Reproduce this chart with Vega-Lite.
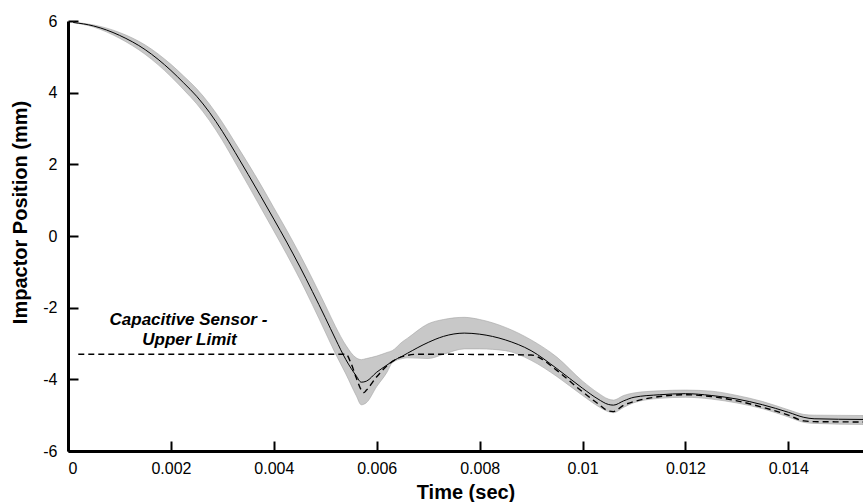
{
  "$schema": "https://vega.github.io/schema/vega-lite/v6.json",
  "width": 795,
  "height": 430,
  "autosize": "none",
  "padding": {"left": 68, "top": 21, "right": 0, "bottom": 51},
  "background": "white",
  "config": {
    "view": {"stroke": null},
    "font": "Liberation Sans",
    "axis": {
      "grid": false,
      "domainColor": "black",
      "domainWidth": 3,
      "tickColor": "black",
      "tickWidth": 2,
      "tickSize": -10,
      "labelColor": "black",
      "labelFontSize": 16,
      "labelFont": "Liberation Sans",
      "titleFont": "Liberation Sans",
      "titleFontSize": 20,
      "titleFontWeight": "bold",
      "titleColor": "black"
    }
  },
  "datasets": {
    "band": [
      {"t": 0.0001, "mean": 5.96, "lo": 5.955, "hi": 5.965},
      {"t": 0.0005, "mean": 5.86, "lo": 5.83, "hi": 5.89},
      {"t": 0.001, "mean": 5.6, "lo": 5.52, "hi": 5.68},
      {"t": 0.0015, "mean": 5.2, "lo": 5.07, "hi": 5.33},
      {"t": 0.002, "mean": 4.62, "lo": 4.45, "hi": 4.79},
      {"t": 0.00225, "mean": 4.27, "lo": 4.08, "hi": 4.46},
      {"t": 0.0025, "mean": 3.9, "lo": 3.69, "hi": 4.11},
      {"t": 0.00275, "mean": 3.45, "lo": 3.22, "hi": 3.68},
      {"t": 0.003, "mean": 2.92, "lo": 2.67, "hi": 3.17},
      {"t": 0.00325, "mean": 2.33, "lo": 2.05, "hi": 2.6},
      {"t": 0.0035, "mean": 1.72, "lo": 1.42, "hi": 2.02},
      {"t": 0.00375, "mean": 1.1, "lo": 0.78, "hi": 1.42},
      {"t": 0.004, "mean": 0.47, "lo": 0.14, "hi": 0.79},
      {"t": 0.00425, "mean": -0.17, "lo": -0.51, "hi": 0.16},
      {"t": 0.0045, "mean": -0.84, "lo": -1.19, "hi": -0.5},
      {"t": 0.00475, "mean": -1.55, "lo": -1.92, "hi": -1.2},
      {"t": 0.005, "mean": -2.28, "lo": -2.68, "hi": -1.93},
      {"t": 0.0052, "mean": -2.88, "lo": -3.29, "hi": -2.53},
      {"t": 0.0054, "mean": -3.45, "lo": -3.85, "hi": -3.05},
      {"t": 0.0056, "mean": -3.9, "lo": -4.45, "hi": -3.4},
      {"t": 0.0057, "mean": -4.08, "lo": -4.71, "hi": -3.45},
      {"t": 0.0058, "mean": -4.05, "lo": -4.65, "hi": -3.42},
      {"t": 0.006, "mean": -3.8, "lo": -4.2, "hi": -3.35},
      {"t": 0.0062, "mean": -3.6, "lo": -3.8, "hi": -3.25},
      {"t": 0.0063, "mean": -3.5, "lo": -3.54, "hi": -3.2},
      {"t": 0.0065, "mean": -3.35, "lo": -3.42, "hi": -2.95},
      {"t": 0.0066, "mean": -3.27, "lo": -3.4, "hi": -2.85},
      {"t": 0.007, "mean": -2.97, "lo": -3.42, "hi": -2.45},
      {"t": 0.0073, "mean": -2.8, "lo": -3.3, "hi": -2.33},
      {"t": 0.0077, "mean": -2.71, "lo": -3.15, "hi": -2.27},
      {"t": 0.008, "mean": -2.74, "lo": -3.15, "hi": -2.33},
      {"t": 0.0085, "mean": -2.9, "lo": -3.2, "hi": -2.55},
      {"t": 0.009, "mean": -3.2, "lo": -3.47, "hi": -2.9},
      {"t": 0.0095, "mean": -3.7, "lo": -3.92, "hi": -3.38},
      {"t": 0.01, "mean": -4.25, "lo": -4.45, "hi": -4.05},
      {"t": 0.0103, "mean": -4.55, "lo": -4.75, "hi": -4.38},
      {"t": 0.0105, "mean": -4.7, "lo": -4.9, "hi": -4.55},
      {"t": 0.0106, "mean": -4.72, "lo": -4.93, "hi": -4.58},
      {"t": 0.0108, "mean": -4.6, "lo": -4.78, "hi": -4.45},
      {"t": 0.011, "mean": -4.5, "lo": -4.65, "hi": -4.38},
      {"t": 0.0115, "mean": -4.43, "lo": -4.53, "hi": -4.32},
      {"t": 0.012, "mean": -4.4, "lo": -4.5, "hi": -4.3},
      {"t": 0.0125, "mean": -4.45, "lo": -4.55, "hi": -4.33},
      {"t": 0.013, "mean": -4.55, "lo": -4.66, "hi": -4.45},
      {"t": 0.0135, "mean": -4.71, "lo": -4.82, "hi": -4.62},
      {"t": 0.014, "mean": -4.92, "lo": -5.05, "hi": -4.85},
      {"t": 0.0143, "mean": -5.06, "lo": -5.2, "hi": -4.98},
      {"t": 0.0145, "mean": -5.1, "lo": -5.23, "hi": -5.0},
      {"t": 0.01545, "mean": -5.12, "lo": -5.26, "hi": -5.01}
    ],
    "sensor": [
      {"t": 0.0002, "v": -3.3},
      {"t": 0.0054, "v": -3.3},
      {"t": 0.0055, "v": -3.55},
      {"t": 0.0056, "v": -3.95},
      {"t": 0.0057, "v": -4.3},
      {"t": 0.00575, "v": -4.37},
      {"t": 0.0058, "v": -4.3},
      {"t": 0.006, "v": -3.93},
      {"t": 0.0062, "v": -3.62},
      {"t": 0.0064, "v": -3.42},
      {"t": 0.0066, "v": -3.33},
      {"t": 0.0068, "v": -3.3},
      {"t": 0.009, "v": -3.32},
      {"t": 0.0092, "v": -3.43},
      {"t": 0.0095, "v": -3.75},
      {"t": 0.01, "v": -4.35},
      {"t": 0.0103, "v": -4.68},
      {"t": 0.0105, "v": -4.88},
      {"t": 0.0106, "v": -4.9},
      {"t": 0.0108, "v": -4.72},
      {"t": 0.011, "v": -4.62},
      {"t": 0.0115, "v": -4.48},
      {"t": 0.012, "v": -4.43},
      {"t": 0.0125, "v": -4.48},
      {"t": 0.013, "v": -4.6},
      {"t": 0.0135, "v": -4.78},
      {"t": 0.014, "v": -5.0},
      {"t": 0.0143, "v": -5.16},
      {"t": 0.0145, "v": -5.18},
      {"t": 0.01545, "v": -5.19}
    ],
    "notes": [
      {"t": 0.00234, "v": -2.34, "label": "Capacitive Sensor -"},
      {"t": 0.00236, "v": -2.9, "label": "Upper Limit"}
    ]
  },
  "layer": [
    {
      "data": {"name": "band"},
      "mark": {"type": "area", "color": "#c8c8c8", "stroke": "#a4a4a4", "strokeWidth": 0.6, "interpolate": "monotone"},
      "encoding": {
        "x": {
          "field": "t", "type": "quantitative",
          "scale": {"domain": [0, 0.01545], "nice": false, "zero": false},
          "axis": {"title": "Time (sec)", "values": [0, 0.002, 0.004, 0.006, 0.008, 0.01, 0.012, 0.014], "format": "~g", "labelPadding": 19, "titlePadding": 6}
        },
        "y": {
          "field": "lo", "type": "quantitative",
          "scale": {"domain": [-6, 6], "nice": false, "zero": false},
          "axis": {"title": "Impactor Position (mm)", "values": [-6, -4, -2, 0, 2, 4, 6], "labelExpr": "'' + datum.value", "labelPadding": 21, "titleX": -48, "titleY": 191, "titleBaseline": "middle", "titleAngle": -90, "titleAlign": "center"}
        },
        "y2": {"field": "hi"}
      }
    },
    {
      "data": {"name": "band"},
      "mark": {"type": "line", "color": "black", "strokeWidth": 1, "interpolate": "monotone"},
      "encoding": {
        "x": {"field": "t", "type": "quantitative"},
        "y": {"field": "mean", "type": "quantitative"}
      }
    },
    {
      "data": {"name": "sensor"},
      "mark": {"type": "line", "color": "black", "strokeWidth": 1.4, "strokeDash": [6, 4], "interpolate": "monotone"},
      "encoding": {
        "x": {"field": "t", "type": "quantitative"},
        "y": {"field": "v", "type": "quantitative"}
      }
    },
    {
      "data": {"name": "notes"},
      "mark": {"type": "text", "fontSize": 17, "fontWeight": "bold", "fontStyle": "italic", "color": "black", "align": "center", "baseline": "middle"},
      "encoding": {
        "x": {"field": "t", "type": "quantitative"},
        "y": {"field": "v", "type": "quantitative"},
        "text": {"field": "label"}
      }
    }
  ]
}
